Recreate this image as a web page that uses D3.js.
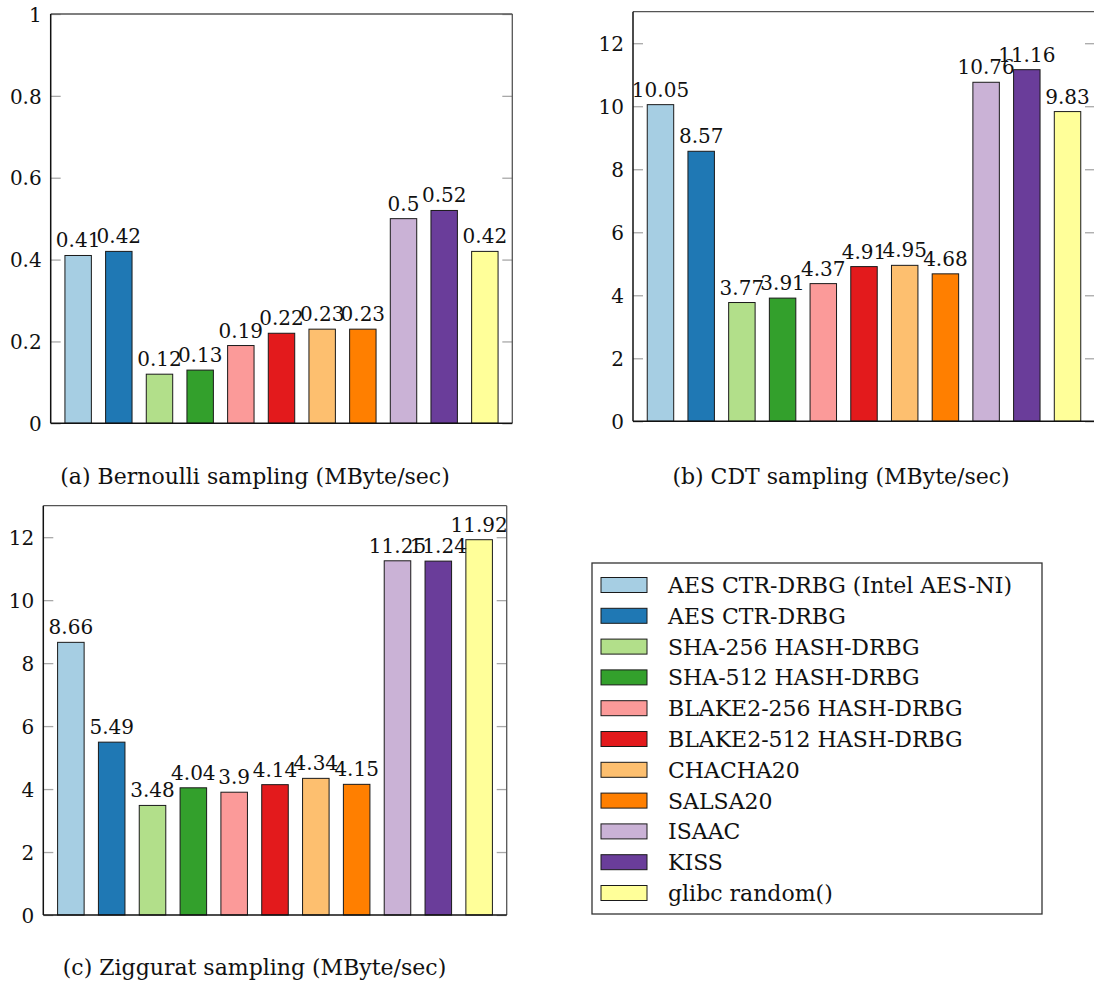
<!DOCTYPE html>
<html>
<head>
<meta charset="utf-8">
<script src="https://cdn.jsdelivr.net/npm/d3@7"></script>
<style>
  html, body { margin: 0; padding: 0; background: #fff; }
  svg { display: block; }
  text { font-family: "DejaVu Serif", serif; fill: #111; }
</style>
</head>
<body>
<svg id="chart" width="1094" height="986"></svg>
<script>
const categories = [
  "AES CTR-DRBG (Intel AES-NI)", "AES CTR-DRBG", "SHA-256 HASH-DRBG", "SHA-512 HASH-DRBG",
  "BLAKE2-256 HASH-DRBG", "BLAKE2-512 HASH-DRBG", "CHACHA20", "SALSA20",
  "ISAAC", "KISS", "glibc random()"
];
const colors = ["#a6cee3", "#1f78b4", "#b2df8a", "#33a02c", "#fb9a99", "#e31a1c",
                "#fdbf6f", "#ff7f00", "#cab2d6", "#6a3d9a", "#ffff99"];
const bernoulliValues = [0.41, 0.42, 0.12, 0.13, 0.19, 0.22, 0.23, 0.23, 0.5, 0.52, 0.42];
const cdtValues = [10.05, 8.57, 3.77, 3.91, 4.37, 4.91, 4.95, 4.68, 10.76, 11.16, 9.83];
const zigguratValues = [8.66, 5.49, 3.48, 4.04, 3.9, 4.14, 4.34, 4.15, 11.25, 11.24, 11.92];
const bernoulliTicks = [0, 0.2, 0.4, 0.6, 0.8, 1];
const gaussTicks = [0, 2, 4, 6, 8, 10, 12];
const captions = ["(a) Bernoulli sampling (MByte/sec)", "(b) CDT sampling (MByte/sec)", "(c) Ziggurat sampling (MByte/sec)"];

const svg = d3.select("#chart");
const FS = 20;      // numbers
const FS_TXT = 22;  // captions and legend
const FONT = "DejaVu Serif";

function panel(cfg) {
  const g = svg.append("g").attr("transform", `translate(${cfg.left},${cfg.top})`);
  const w = cfg.width, h = cfg.height;
  const x = d3.scaleBand().domain(d3.range(categories.length)).range([0, w]).paddingInner(0.35).paddingOuter(0.35);
  const y = d3.scaleLinear().domain([0, cfg.ymax]).range([h, 0]);

  const left = d3.axisLeft(y).tickValues(cfg.ticks).tickSize(-10).tickPadding(9).tickFormat(d3.format("~"));
  const gl = g.append("g").call(left);
  gl.attr("font-family", FONT).attr("font-size", FS);
  gl.select(".domain").remove();
  gl.selectAll(".tick line").attr("stroke", "#a8a8a8").attr("stroke-width", 1.3);
  gl.selectAll(".tick text").attr("font-size", FS).attr("fill", "#111").attr("dy", "0.36em");

  const right = d3.axisRight(y).tickValues(cfg.ticks).tickSize(-10).tickFormat("");
  const gr = g.append("g").attr("transform", `translate(${w},0)`).call(right);
  gr.select(".domain").remove();
  gr.selectAll(".tick line").attr("stroke", "#a8a8a8").attr("stroke-width", 1.3);

  g.selectAll("rect.bar").data(cfg.values).join("rect")
    .attr("class", "bar")
    .attr("x", (d, i) => x(i))
    .attr("y", d => y(d))
    .attr("width", x.bandwidth())
    .attr("height", d => h - y(d))
    .attr("fill", (d, i) => colors[i])
    .attr("stroke", "#1a1a1a").attr("stroke-width", 1);

  g.selectAll("text.val").data(cfg.values).join("text")
    .attr("class", "val")
    .attr("x", (d, i) => x(i) + x.bandwidth() / 2)
    .attr("y", d => y(d) - 8)
    .attr("text-anchor", "middle")
    .attr("font-size", FS)
    .text(d => d3.format("~")(d));

  g.append("line").attr("x1", 0).attr("x2", w).attr("y1", 0).attr("y2", 0).attr("stroke", "#555").attr("stroke-width", 1.3);
  g.append("line").attr("x1", w).attr("x2", w).attr("y1", 0).attr("y2", h).attr("stroke", "#555").attr("stroke-width", 1.3);
  g.append("line").attr("x1", 0).attr("x2", 0).attr("y1", 0).attr("y2", h).attr("stroke", "#111").attr("stroke-width", 1.5);
  g.append("line").attr("x1", 0).attr("x2", w).attr("y1", h).attr("y2", h).attr("stroke", "#111").attr("stroke-width", 1.5);

  svg.append("text").attr("x", cfg.capX).attr("y", cfg.capY).attr("text-anchor", "middle")
    .attr("font-size", FS_TXT).text(cfg.caption);
}

panel({ left: 50.7, top: 14, width: 461.6, height: 409.3, ymax: 1, ticks: bernoulliTicks,
        values: bernoulliValues, caption: captions[0], capX: 255, capY: 484 });
panel({ left: 633, top: 11.7, width: 462, height: 409.6, ymax: 13, ticks: gaussTicks,
        values: cdtValues, caption: captions[1], capX: 841, capY: 484 });
panel({ left: 43.3, top: 505.7, width: 463.4, height: 409.3, ymax: 13, ticks: gaussTicks,
        values: zigguratValues, caption: captions[2], capX: 254.5, capY: 975 });

const lg = svg.append("g");
lg.append("rect").attr("x", 592).attr("y", 563).attr("width", 450).attr("height", 351)
  .attr("fill", "#fff").attr("stroke", "#333").attr("stroke-width", 1.3);
const rowY = d3.scaleLinear().domain([0, categories.length - 1]).range([585, 893]);
const items = lg.selectAll("g.item").data(categories).join("g").attr("class", "item")
  .attr("transform", (d, i) => `translate(0,${rowY(i)})`);
items.append("rect").attr("x", 601).attr("y", -7.5).attr("width", 46).attr("height", 15)
  .attr("fill", (d, i) => colors[i]).attr("stroke", "#1a1a1a").attr("stroke-width", 1);
items.append("text").attr("x", 668).attr("y", 0).attr("dy", "0.36em").attr("font-size", FS_TXT).text(d => d);
</script>
</body>
</html>
